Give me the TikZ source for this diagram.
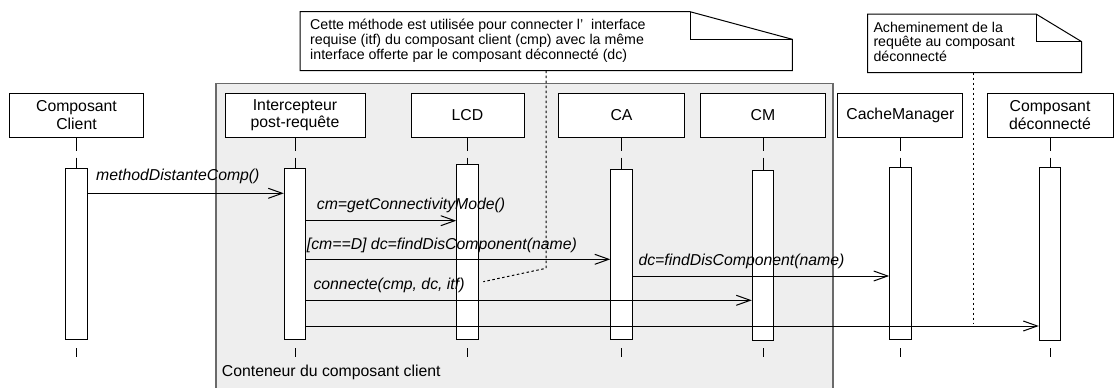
\documentclass[tikz,border=0pt]{standalone}
\usepackage{fontspec}
\setmainfont{Liberation Sans}
\usetikzlibrary{arrows.meta}
\definecolor{contfill}{HTML}{EEEEEE}
\definecolor{contline}{HTML}{6A6A6A}
\begin{document}
\begin{tikzpicture}[x=1pt,y=-1pt,
  hdr/.style={draw=black, fill=white, line width=1pt, minimum height=44pt, align=center,
    font=\fontsize{15.8}{17.5}\selectfont, inner sep=0pt},
  act/.style={draw=black, fill=white, line width=1pt, minimum width=21.5pt, inner sep=0pt},
  msg/.style={draw=black, line width=1pt, -{Straight Barb[length=14pt,width=10pt,line width=1pt]}},
  lbl/.style={font=\fontsize{15.8}{17.5}\selectfont\itshape, anchor=base west, inner sep=0pt},
  life/.style={line width=1pt, dash pattern=on 13pt off 7pt},
  tick/.style={line width=1pt},
  notebox/.style={draw=black, fill=white, line width=1pt, line join=miter},
  notetxt/.style={font=\fontsize{14.2}{14.8}\selectfont, align=left, anchor=north west, inner sep=0pt},
  notelink/.style={line width=1pt, dash pattern=on 2.5pt off 2.5pt}
]
\useasboundingbox (0,0) rectangle (1114,388);
\clip (0,0) rectangle (1114,388);

% container
\path[draw=contline, fill=contfill, line width=1.3pt] (216,83.3) rectangle (833,400);
\node[anchor=base west, inner sep=0pt, font=\fontsize{15.8}{17.5}\selectfont] (contlbl) at (221.7,376.3) {Conteneur du composant client};

% notes
\draw[notebox] (300,11.7) -- (690,11.7) -- (792.3,39.3) -- (792.3,70.7) -- (300,70.7) -- cycle;
\draw[line width=1pt] (690,11.7) -- (690,39.3) -- (792.3,39.3);
\node[notetxt] (note1) at (310,19) {Cette méthode est utilisée pour connecter l'\ \ interface\\requise (itf) du composant client (cmp) avec la même\\interface offerte par le composant déconnecté (dc)};

\draw[notebox] (867.7,14) -- (1036,14) -- (1081.7,41.7) -- (1081.7,72.7) -- (867.7,72.7) -- cycle;
\draw[line width=1pt] (1036,14) -- (1036,41.7) -- (1081.7,41.7);
\node[notetxt] (note2) at (873.3,21.6) {Acheminement de la\\requête au composant\\déconnecté};

% headers
\node[hdr, minimum width=134pt] (cc)  at (76.5,115)  {Composant\\Client};
\node[hdr, minimum width=140pt] (ic)  at (295,115)   {Intercepteur\\post-requête};
\node[hdr, minimum width=113pt] (lcd) at (467.5,115) {LCD};
\node[hdr, minimum width=126pt] (ca)  at (621.5,115) {CA};
\node[hdr, minimum width=125pt] (cm)  at (763,115)   {CM};
\node[hdr, minimum width=125pt] (cmg) at (900.4,115) {CacheManager};
\node[hdr, minimum width=126pt] (cd)  at (1050,115)  {Composant\\déconnecté};

% activations
\node[act, minimum height=171.2pt] (acc)  at (76.5,253.9)  {};
\node[act, minimum height=171.2pt] (aic)  at (295,253.9)   {};
\node[act, minimum height=175.2pt] (alcd) at (467.5,251.9) {};
\node[act, minimum height=170.5pt] (aca)  at (621.5,254.25){};
\node[act, minimum height=170pt]   (acm)  at (763,255)     {};
\node[act, minimum height=172pt]   (acmg) at (900.4,253.3) {};
\node[act, minimum height=172.7pt] (acd)  at (1050,253.65) {};

% lifelines
\foreach \h/\a in {cc/acc, ic/aic, lcd/alcd, ca/aca, cm/acm, cmg/acmg, cd/acd}{
  \draw[life] (\h.south) -- (\a.north);
}
\coordinate (tk1) at (0,348);
\coordinate (tk2) at (0,357);
\foreach \a in {acc, aic, alcd, aca, acm, acmg, acd}{
  \draw[tick] (\a.south |- tk1) -- (\a.south |- tk2);
}

% note links
\coordinate (n1a) at (546,70.7);
\coordinate (n1b) at (546,268.3);
\coordinate (n1c) at (483.3,281.7);
\draw[notelink] (n1a) -- (n1b) -- (n1c);
\coordinate (n2a) at (973.5,72.7);
\coordinate (n2b) at (973.5,323);
\draw[notelink] (n2a) -- (n2b);

% messages
\coordinate (m1) at (0,193.3);
\coordinate (m2) at (0,220.7);
\coordinate (m3) at (0,259.3);
\coordinate (m4) at (0,276);
\coordinate (m5) at (0,300.3);
\coordinate (m6) at (0,326);
\draw[msg] (acc.east |- m1) -- (aic.west |- m1);
\draw[msg] (aic.east |- m2) -- (alcd.west |- m2);
\draw[msg] (aic.east |- m3) -- (aca.west |- m3);
\draw[msg] (aca.east |- m4) -- (acmg.west |- m4);
\draw[msg] (aic.east |- m5) -- (acm.west |- m5);
\draw[msg] (aic.east |- m6) -- (acd.west |- m6);

\node[lbl] (l1) at (96,180.7)   {methodDistanteComp()};
\node[lbl] (l2) at (316.7,209.8) {cm=getConnectivityMode()};
\node[lbl] (l3) at (306.7,249.5) {[cm==D] dc=findDisComponent(name)};
\node[lbl] (l4) at (638.3,265)   {dc=findDisComponent(name)};
\node[lbl] (l5) at (313.3,289.4) {connecte(cmp, dc, itf)};
\end{tikzpicture}
\end{document}
